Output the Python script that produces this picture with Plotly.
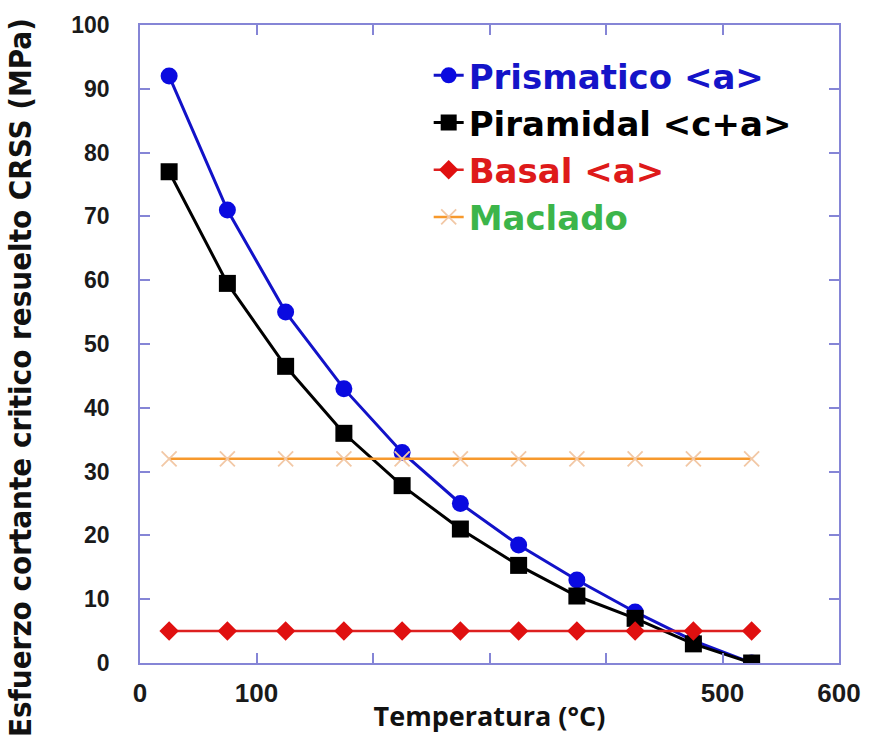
import plotly.graph_objects as go

temperatura = [25, 75, 125, 175, 225, 275, 325, 375, 425, 475, 525]
prismatico = [92, 71, 55, 43, 33, 25, 18.5, 13, 8, 3.5, 0]
piramidal = [77, 59.5, 46.5, 36, 27.8, 21, 15.3, 10.5, 7, 3, 0]
basal = [5, 5, 5, 5, 5, 5, 5, 5, 5, 5, 5]
maclado = [32, 32, 32, 32, 32, 32, 32, 32, 32, 32, 32]

x_ticks = [0, 100, 200, 300, 400, 500, 600]
x_tick_text = ["0", "100", "", "", "", "500", "600"]
y_ticks = [0, 10, 20, 30, 40, 50, 60, 70, 80, 90, 100]

AX = "#8585d6"

fig = go.Figure()
fig.add_trace(go.Scatter(
    x=temperatura, y=prismatico, mode="lines+markers",
    name="<span style='color:#1414c8'>Prismatico &lt;a&gt;</span>",
    line=dict(color="#1212c8", width=3),
    marker=dict(symbol="circle", size=17, color="#0a0ae0"),
))
fig.add_trace(go.Scatter(
    x=temperatura, y=piramidal, mode="lines+markers",
    name="<span style='color:#000000'>Piramidal &lt;c+a&gt;</span>",
    line=dict(color="#000000", width=3),
    marker=dict(symbol="square", size=17, color="#000000"),
))
fig.add_trace(go.Scatter(
    x=temperatura, y=basal, mode="lines+markers",
    name="<span style='color:#de1a1a'>Basal &lt;a&gt;</span>",
    line=dict(color="#dd2020", width=2.5),
    marker=dict(symbol="diamond", size=15, color="#e01010"),
))
fig.add_trace(go.Scatter(
    x=temperatura, y=maclado, mode="lines+markers",
    name="<span style='color:#3cb54a'>Maclado</span>",
    line=dict(color="#f7992c", width=2.5),
    marker=dict(symbol="x-thin", size=15, color="#f2c8a6",
                line=dict(color="#f2c8a6", width=1.8)),
))

fig.update_layout(
    width=873, height=750,
    margin=dict(l=140, r=25, t=25, b=87),
    paper_bgcolor="white", plot_bgcolor="white",
    font=dict(family="Liberation Sans, Arial, sans-serif", color="#1a1a1a"),
    showlegend=True,
    legend=dict(
        x=0.413, y=0.966, xanchor="left", yanchor="top",
        bgcolor="rgba(0,0,0,0)", borderwidth=0,
        font=dict(size=34, family="DejaVu Sans, sans-serif", weight="bold"),
        tracegroupgap=0,
    ),
    xaxis=dict(
        range=[0, 600], tickvals=x_ticks, ticktext=x_tick_text,
        ticks="inside", ticklen=10, tickcolor=AX, tickwidth=1.5,
        showline=True, linecolor=AX, linewidth=1.5, mirror="ticks",
        showgrid=False, zeroline=False, ticklabelstandoff=6,
        tickfont=dict(size=26, family="Liberation Sans, Arial, sans-serif",
                      color="#1a1a1a", weight="bold"),
        title=dict(text="Temperatura (°C)", standoff=0,
                   font=dict(size=27, family="Open Sans, sans-serif",
                             color="#111111", weight="bold")),
    ),
    yaxis=dict(
        range=[0, 100], tickvals=y_ticks,
        ticks="inside", ticklen=10, tickcolor=AX, tickwidth=1.5,
        showline=True, linecolor=AX, linewidth=1.5, mirror="ticks",
        showgrid=False, zeroline=False, ticklabelstandoff=24,
        tickfont=dict(size=23, family="Liberation Sans, Arial, sans-serif",
                      color="#1a1a1a", weight="bold"),
    ),
    annotations=[dict(
        text="<b>Esfuerzo cortante critico resuelto CRSS (MPa)</b>",
        xref="paper", yref="paper", x=-0.172, y=0.448,
        xanchor="center", yanchor="middle", textangle=-90, showarrow=False,
        font=dict(size=31, family="Liberation Sans Narrow, DejaVu Sans Condensed, Roboto Condensed, Arial Narrow, sans-serif",
                  color="#111111"),
    )],
)

fig.write_html("out.html")
